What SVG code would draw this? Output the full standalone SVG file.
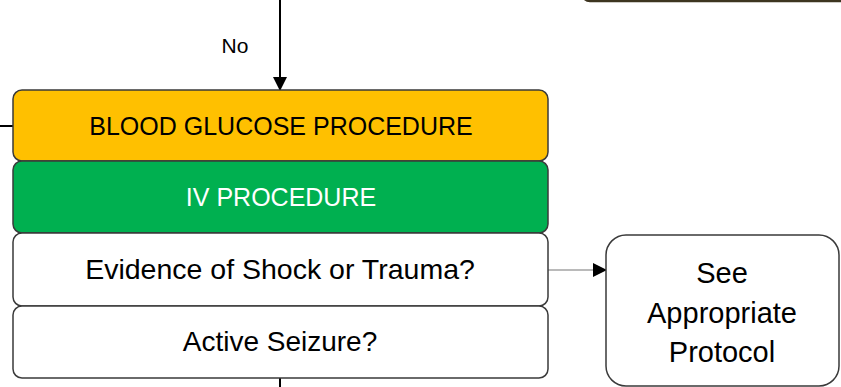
<svg xmlns="http://www.w3.org/2000/svg" width="841" height="387" viewBox="0 0 841 387">
<style>
.box{stroke:#3a3a3a;stroke-width:1.5}
.t{font-family:"Liberation Sans",Arial,sans-serif;text-anchor:middle;fill:#000}
.con{fill:none;stroke:#000;stroke-width:2}
</style>
<defs>
<marker id="ah" markerWidth="14" markerHeight="14" refX="13" refY="7" orient="auto" markerUnits="userSpaceOnUse">
<path d="M0,0 L14,7 L0,14 Z" fill="#000"/>
</marker>
</defs>
<rect width="841" height="387" fill="#fff"/>
<g id="top-box">
<rect x="582" y="-60" width="280" height="61" rx="8" fill="#fff" stroke="#3d3520" stroke-width="2.5"/>
</g>
<g id="connectors">
<line class="con" x1="280" y1="0" x2="280" y2="90" marker-end="url(#ah)"/>
<line class="con" x1="0" y1="126" x2="13" y2="126" stroke-width="1.5"/>
<line x1="548" y1="270" x2="606" y2="270" stroke="#777" stroke-width="1.2" marker-end="url(#ah)"/>
<line class="con" x1="280" y1="378" x2="280" y2="387"/>
<text class="t" x="235" y="53" font-size="21">No</text>
</g>
<g id="blood-glucose">
<rect class="box" x="13" y="90" width="535" height="71" rx="9" fill="#FFC000"/>
<text class="t" x="281" y="135" font-size="25">BLOOD GLUCOSE PROCEDURE</text>
</g>
<g id="iv-procedure">
<rect class="box" x="13" y="161" width="535" height="72" rx="9" fill="#00B050"/>
<text class="t" x="281" y="206" font-size="25" style="fill:#fff">IV PROCEDURE</text>
</g>
<g id="shock-trauma">
<rect class="box" x="13" y="233" width="535" height="73" rx="9" fill="#fff"/>
<text class="t" x="280" y="279" font-size="28.5">Evidence of Shock or Trauma?</text>
</g>
<g id="active-seizure">
<rect class="box" x="13" y="306" width="535" height="72" rx="9" fill="#fff"/>
<text class="t" x="280" y="351" font-size="28">Active Seizure?</text>
</g>
<g id="see-protocol">
<rect class="box" x="606" y="235" width="233" height="151" rx="20" fill="#fff"/>
<text class="t" x="722" y="283" font-size="29">See</text>
<text class="t" x="722" y="323" font-size="29">Appropriate</text>
<text class="t" x="722" y="362" font-size="29">Protocol</text>
</g>
</svg>
